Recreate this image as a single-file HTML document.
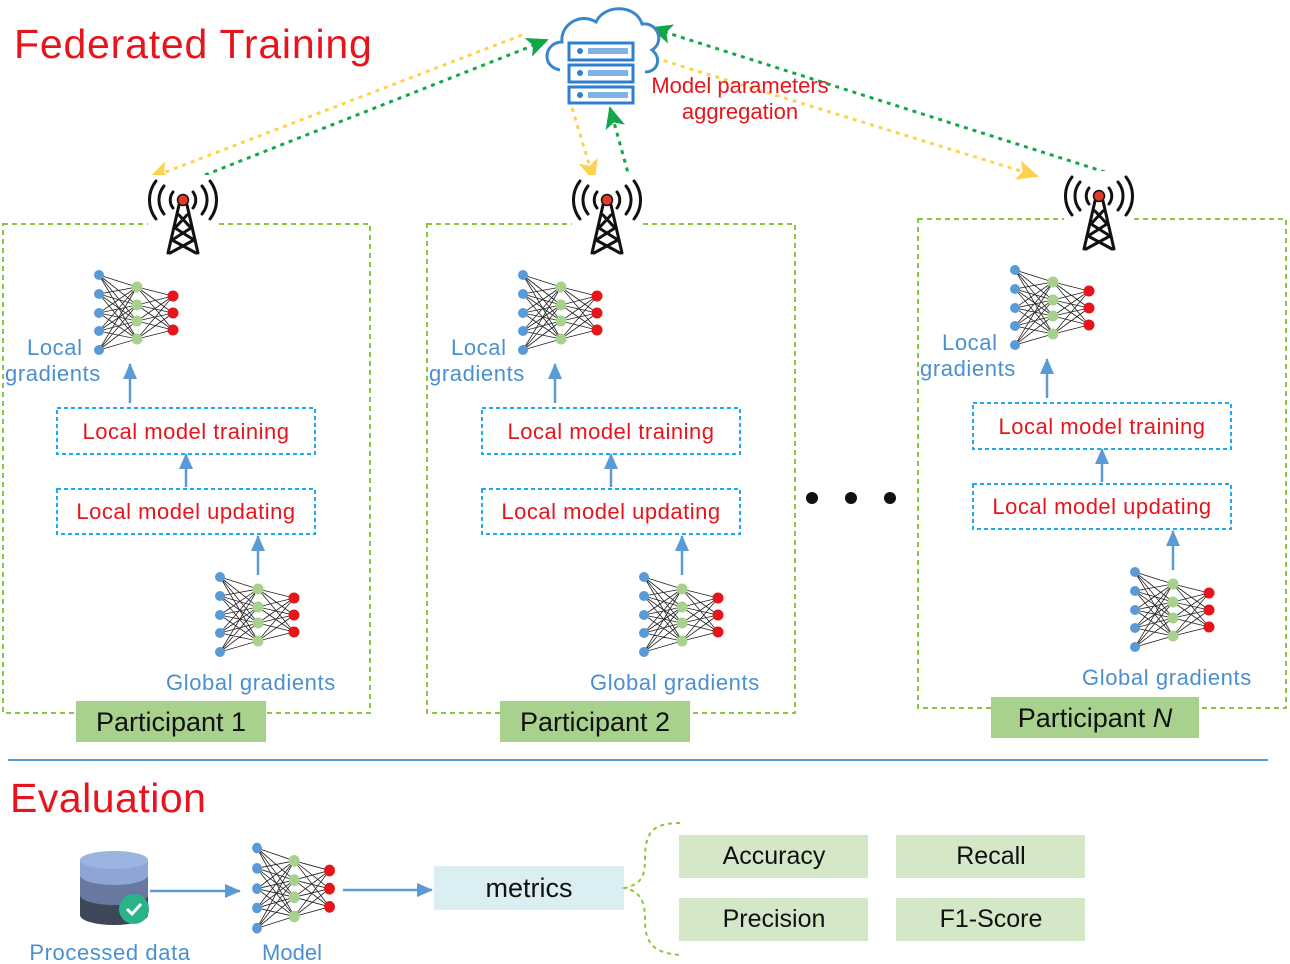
<!DOCTYPE html>
<html><head><meta charset="utf-8"><style>
body{margin:0;background:#fff;}
svg{display:block;}
text{font-family:"Liberation Sans","DejaVu Sans",sans-serif;}
</style></head><body>
<svg width="1290" height="964" viewBox="0 0 1290 964" xmlns="http://www.w3.org/2000/svg">
<defs>
<g id="nn">
<g stroke="#222" stroke-width="0.8">
<path d="M0 0L38 12M0 0L38 30M0 0L38 46M0 0L38 64M0 19L38 12M0 19L38 30M0 19L38 46M0 19L38 64M0 38L38 12M0 38L38 30M0 38L38 46M0 38L38 64M0 56L38 12M0 56L38 30M0 56L38 46M0 56L38 64M0 75L38 12M0 75L38 30M0 75L38 46M0 75L38 64M38 12L74 21M38 12L74 38M38 12L74 55M38 30L74 21M38 30L74 38M38 30L74 55M38 46L74 21M38 46L74 38M38 46L74 55M38 64L74 21M38 64L74 38M38 64L74 55"/>
</g>
<g fill="#5b9bd5"><circle cx="0" cy="0" r="5"/><circle cx="0" cy="19" r="5"/><circle cx="0" cy="38" r="5"/><circle cx="0" cy="56" r="5"/><circle cx="0" cy="75" r="5"/></g>
<g fill="#a9d18e"><circle cx="38" cy="12" r="5.5"/><circle cx="38" cy="30" r="5.5"/><circle cx="38" cy="46" r="5.5"/><circle cx="38" cy="64" r="5.5"/></g>
<g fill="#e8141c"><circle cx="74" cy="21" r="5.5"/><circle cx="74" cy="38" r="5.5"/><circle cx="74" cy="55" r="5.5"/></g>
</g>
<g id="ant">
<rect x="-35" y="-25" width="70" height="82" fill="#fff"/>
<g fill="none" stroke="#111" stroke-width="3" stroke-linecap="round">
<path d="M-10 -8A13 13 0 0 0 -10 8M10 -8A13 13 0 0 1 10 8"/>
<path d="M-19 -14A22 22 0 0 0 -19 14M19 -14A22 22 0 0 1 19 14"/>
<path d="M-27 -19A31 31 0 0 0 -27 19M27 -19A31 31 0 0 1 27 19"/>
<path d="M-4 5L-15 53M4 5L15 53M-4 15L8 28L-11 40L13 53M4 15L-8 28L11 40L-13 53"/>
</g>
<circle cx="0" cy="0" r="5.5" fill="#e03a2b" stroke="#111" stroke-width="1.5"/>
</g>
<marker id="ay" markerWidth="22" markerHeight="20" refX="20" refY="10" orient="auto" markerUnits="userSpaceOnUse" viewBox="0 0 22 20"><path d="M0 0L22 10L0 20L5 10z" fill="#ffd24d"/></marker>
<marker id="ag" markerWidth="22" markerHeight="20" refX="20" refY="10" orient="auto" markerUnits="userSpaceOnUse" viewBox="0 0 22 20"><path d="M0 0L22 10L0 20L5 10z" fill="#12a84a"/></marker>
<marker id="ab" markerWidth="16" markerHeight="14" refX="15" refY="7" orient="auto" markerUnits="userSpaceOnUse" viewBox="0 0 16 14"><path d="M0 0L16 7L0 14z" fill="#5b9bd5"/></marker>
</defs>

<text x="14" y="58" font-size="41" fill="#e8141c" letter-spacing="0.8">Federated Training</text>

<g fill="none" stroke="#8cc63f" stroke-width="2" stroke-dasharray="5,4">
<rect x="3" y="224" width="367" height="489"/>
<rect x="427" y="224" width="368" height="489"/>
<rect x="918" y="219" width="368" height="489"/>
</g>

<g fill="none" stroke-width="3" stroke-dasharray="4,5">
<path d="M522 35L150 178" stroke="#ffd24d" marker-end="url(#ay)"/>
<path d="M205 175L547 40" stroke="#12a84a" marker-end="url(#ag)"/>
<path d="M572 108L594 180" stroke="#ffd24d" marker-end="url(#ay)"/>
<path d="M630 180L610 108" stroke="#12a84a" marker-end="url(#ag)"/>
<path d="M655 58L1037 176" stroke="#ffd24d" marker-end="url(#ay)"/>
<path d="M1105 172L652 28" stroke="#12a84a" marker-end="url(#ag)"/>
</g>

<path d="M560 70C540 66 545 42 562 42C560 25 580 12 596 22C604 4 636 4 642 24C658 22 665 42 652 50C662 58 658 72 645 72" fill="#fff" stroke="#3a86cc" stroke-width="3"/>
<g fill="#fff" stroke="#2e7fd0" stroke-width="3">
<rect x="569" y="43" width="64" height="17"/>
<rect x="569" y="65" width="64" height="17"/>
<rect x="569" y="87" width="64" height="16"/>
</g>
<g fill="#2e7fd0"><circle cx="580" cy="51" r="3"/><circle cx="580" cy="73" r="3"/><circle cx="580" cy="95" r="3"/>
<rect x="588" y="48" width="40" height="6" opacity=".6"/><rect x="588" y="70" width="40" height="6" opacity=".6"/><rect x="588" y="92" width="40" height="6" opacity=".6"/></g>
<text x="740" y="93" font-size="22" fill="#e8141c" text-anchor="middle">Model parameters</text>
<text x="740" y="119" font-size="22" fill="#e8141c" text-anchor="middle">aggregation</text>

<use href="#ant" x="183" y="200"/>
<use href="#ant" x="607" y="200"/>
<use href="#ant" x="1099" y="196"/>

<use href="#nn" x="99" y="275"/>
<use href="#nn" x="220" y="577"/>
<use href="#nn" x="523" y="275"/>
<use href="#nn" x="644" y="577"/>
<use href="#nn" x="1015" y="270"/>
<use href="#nn" x="1135" y="572"/>

<g fill="#fff" stroke="#1eaaf0" stroke-width="2" stroke-dasharray="4,3">
<rect x="57" y="408" width="258" height="46"/><rect x="57" y="489" width="258" height="45"/>
<rect x="482" y="408" width="258" height="46"/><rect x="482" y="489" width="258" height="45"/>
<rect x="973" y="403" width="258" height="46"/><rect x="973" y="484" width="258" height="45"/>
</g>
<g font-size="22" fill="#e8141c" text-anchor="middle" letter-spacing="0.5">
<text x="186" y="439">Local model training</text><text x="186" y="519">Local model updating</text>
<text x="611" y="439">Local model training</text><text x="611" y="519">Local model updating</text>
<text x="1102" y="434">Local model training</text><text x="1102" y="514">Local model updating</text>
</g>

<g stroke="#5b9bd5" stroke-width="2.5" marker-end="url(#ab)">
<path d="M130 403V364"/><path d="M186 487V454"/><path d="M258 575V536"/>
<path d="M555 403V364"/><path d="M611 487V454"/><path d="M682 575V536"/>
<path d="M1047 398V359"/><path d="M1102 482V449"/><path d="M1173 570V531"/>
</g>

<g font-size="22" fill="#4a8fd0" letter-spacing="0.6">
<text x="27" y="355">Local</text><text x="5" y="381">gradients</text>
<text x="451" y="355">Local</text><text x="429" y="381">gradients</text>
<text x="942" y="350">Local</text><text x="920" y="376">gradients</text>
<text x="166" y="690">Global gradients</text>
<text x="590" y="690">Global gradients</text>
<text x="1082" y="685">Global gradients</text>
</g>

<g fill="#a9d18e"><rect x="76" y="701" width="190" height="41"/><rect x="500" y="701" width="190" height="41"/><rect x="991" y="697" width="208" height="41"/></g>
<g font-size="27" fill="#111" text-anchor="middle">
<text x="171" y="731">Participant 1</text><text x="595" y="731">Participant 2</text>
<text x="1095" y="727">Participant <tspan font-style="italic">N</tspan></text>
</g>

<g fill="#111"><circle cx="812" cy="498" r="6"/><circle cx="851" cy="498" r="6"/><circle cx="890" cy="498" r="6"/></g>

<line x1="8" y1="760" x2="1268" y2="760" stroke="#5b9bd5" stroke-width="2"/>
<text x="10" y="812" font-size="41" fill="#e8141c" letter-spacing="0.5">Evaluation</text>

<g>
<path d="M80 860V915A34 10 0 0 0 148 915V860Z" fill="#3d4758"/>
<path d="M80 860V895A34 10 0 0 0 148 895V860Z" fill="#6878a0"/>
<path d="M80 860V875A34 10 0 0 0 148 875V860Z" fill="#8fa6d4"/>
<ellipse cx="114" cy="860" rx="34" ry="9" fill="#9cb4e0"/>
<circle cx="134" cy="909" r="15" fill="#2ab38a"/>
<path d="M127 909L132 914L141 904" fill="none" stroke="#fff" stroke-width="3"/>
</g>
<text x="110" y="960" font-size="22" fill="#4a8fd0" text-anchor="middle" letter-spacing="0.6">Processed data</text>
<path d="M150 891H240" stroke="#5b9bd5" stroke-width="2.5" marker-end="url(#ab)"/>
<use href="#nn" transform="translate(257 848) scale(0.98 1.07)"/>
<text x="292" y="960" font-size="22" fill="#4a8fd0" text-anchor="middle">Model</text>
<path d="M343 890H432" stroke="#5b9bd5" stroke-width="2.5" marker-end="url(#ab)"/>
<rect x="434" y="866" width="190" height="44" fill="#daeef3"/>
<text x="529" y="897" font-size="27" fill="#111" text-anchor="middle">metrics</text>
<path d="M680 823C650 823 645 835 645 860C645 878 640 884 625 888C640 892 645 900 645 920C645 945 655 953 680 955" fill="none" stroke="#8cc63f" stroke-width="2" stroke-dasharray="4,4"/>
<g fill="#d4e8c8"><rect x="679" y="835" width="189" height="43"/><rect x="896" y="835" width="189" height="43"/><rect x="679" y="898" width="189" height="43"/><rect x="896" y="898" width="189" height="43"/></g>
<g font-size="25" fill="#111" text-anchor="middle">
<text x="774" y="864">Accuracy</text><text x="991" y="864">Recall</text>
<text x="774" y="927">Precision</text><text x="991" y="927">F1-Score</text>
</g>
</svg>
</body></html>
